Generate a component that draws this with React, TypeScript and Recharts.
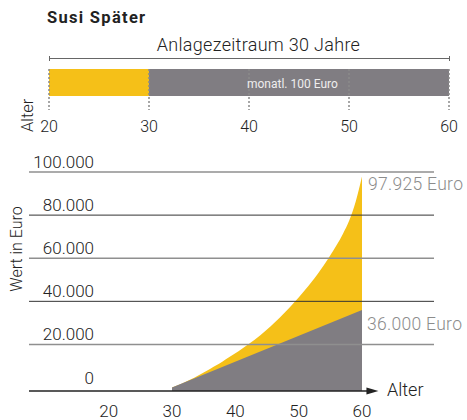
import { Area, Bar, BarChart, ComposedChart, ReferenceDot, ReferenceLine, XAxis, YAxis } from "recharts"

const YELLOW = "#F5C018"
const GRAY = "#807D82"
const FONT = "Roboto, sans-serif"

// Zeitstrahl oben
const TIMELINE_TICKS = [20, 30, 40, 50, 60]
const WAIT_PHASE: [number, number] = [20, 30]
const SAVE_PHASE: [number, number] = [30, 60]

// Wertentwicklung unten (Alter -> Wert in Euro)
const AGES = [30, 31, 32, 33, 34, 35, 36, 37, 38, 39, 40, 41, 42, 43, 44, 45, 46, 47, 48, 49, 50, 51, 52, 53, 54, 55, 56, 57, 58, 59, 60]
const TOTAL = [
  0, 1200, 2500, 3900, 5400, 7000, 8600, 10300, 12100, 14000, 15900,
  17900, 20000, 22100, 24400, 26900, 29600, 32400, 35400, 38500, 41800,
  45200, 48900, 52700, 56900, 61400, 66100, 71400, 77600, 86200, 97925,
]
const PAID_AGES = [30, 60]
const PAID = [0, 36000]
const Y_TICKS = [0, 20000, 40000, 60000, 80000, 100000]
const X_TICKS = [20, 30, 40, 50, 60]

// axis extents (grid lines run past the data range)
const X_MIN = 7.42
const X_MAX = 71.37
const Y_MIN = -1600

const timelineData = [{ name: "Alter", warten: WAIT_PHASE, sparen: SAVE_PHASE }]

const chartData = AGES.map((a, i) => {
  const p = PAID_AGES.indexOf(a)
  return { alter: a, gesamt: TOTAL[i], einzahlung: p >= 0 ? PAID[p] : null }
})

const fmt = (v: number) => v.toLocaleString("de-DE")

export default function App() {
  return (
    <div style={{ position: "absolute", left: 0, top: 0, width: 467, height: 420, background: "#fff", fontFamily: FONT }}>
      <div style={{ position: "absolute", left: 0, top: 0 }}>
        <BarChart
          width={467}
          height={140}
          layout="vertical"
          data={timelineData}
          margin={{ top: 69, right: 18, bottom: 43, left: 49 }}
          barCategoryGap={0}
        >
          <YAxis yAxisId="a" type="category" dataKey="name" hide />
          <YAxis yAxisId="b" type="category" dataKey="name" hide />
          <Bar yAxisId="a" dataKey="warten" fill={YELLOW} isAnimationActive={false} />
          <Bar yAxisId="b" dataKey="sparen" fill={GRAY} isAnimationActive={false} />
          <XAxis
            type="number"
            domain={[20, 60]}
            ticks={TIMELINE_TICKS}
            height={1}
            axisLine={false}
            tickLine={false}
            tickSize={0}
            tickMargin={0}
            interval={0}
            tick={(props: any) => (
              <g>
                <line x1={props.x} x2={props.x} y1={props.y - 27} y2={props.y + 14} stroke="#8a8a8a" strokeWidth={1.5} strokeDasharray="2 2" />
                <text x={props.x} y={props.y + 36} textAnchor="middle" fontSize={16} fontWeight={300} fill="#222" fontFamily={FONT}>
                  {props.payload.value}
                </text>
              </g>
            )}
          />
        </BarChart>
      </div>

      <div style={{ position: "absolute", left: 0, top: 0 }}>
        <ComposedChart width={467} height={420} data={chartData} margin={{ top: 172, right: 33, bottom: 28, left: 28 }}>
          {Y_TICKS.slice(1).map((v, i) => (
            <ReferenceLine
              key={v}
              y={v}
              stroke={i % 2 === 0 ? "#8f8f8f" : "#333"}
              strokeWidth={i % 2 === 0 ? 1.5 : 1}
            />
          ))}
          <XAxis
            dataKey="alter"
            type="number"
            domain={[X_MIN, X_MAX]}
            ticks={X_TICKS}
            allowDataOverflow
            height={1}
            axisLine={false}
            tickLine={false}
            tickSize={0}
            tickMargin={0}
            interval={0}
            tick={(props: any) => (
              <text x={props.x} y={props.y + 26} textAnchor="middle" fontSize={17} fontWeight={300} fill="#222" fontFamily={FONT}>
                {props.payload.value}
              </text>
            )}
          />
          <YAxis
            type="number"
            domain={[Y_MIN, 100000]}
            ticks={Y_TICKS}
            allowDataOverflow
            width={1}
            axisLine={false}
            tickLine={false}
            tickSize={0}
            tickMargin={0}
            interval={0}
            tick={(props: any) => (
              <text x={94} y={props.y - 4} textAnchor="end" fontSize={17} fontWeight={300} fill="#222" fontFamily={FONT}>
                {fmt(props.payload.value)}
              </text>
            )}
          />
          <Area
            dataKey="gesamt"
            type="monotone"
            fill={YELLOW}
            fillOpacity={1}
            stroke="none"
            baseValue={Y_MIN}
            isAnimationActive={false}
          />
          <Area
            dataKey="einzahlung"
            type="linear"
            connectNulls
            fill={GRAY}
            fillOpacity={1}
            stroke="none"
            baseValue={Y_MIN}
            isAnimationActive={false}
          />
          <ReferenceLine
            segment={[{ x: X_MIN, y: Y_MIN }, { x: 62, y: Y_MIN }]}
            stroke="#222"
            strokeWidth={1.3}
          />
          <ReferenceDot
            x={62.6}
            y={Y_MIN}
            r={0}
            shape={(p: any) => (
              <polygon points={`${p.cx - 12},${p.cy - 3.5} ${p.cx},${p.cy} ${p.cx - 12},${p.cy + 3.5}`} fill="#222" />
            )}
          />
        </ComposedChart>
      </div>

      <div style={{ position: "absolute", left: 49, top: 56, width: 399, height: 5, borderLeft: "1px solid #666", borderRight: "1px solid #666" }}>
        <div style={{ position: "absolute", left: 0, right: 0, top: 2, borderTop: "1px solid #666" }} />
      </div>

      <svg width={467} height={420} style={{ position: "absolute", left: 0, top: 0, pointerEvents: "none" }} fontFamily={FONT}>
        <text x={47} y={22.5} fontSize={16.5} fontWeight={700} fill="#222" letterSpacing={1.3}>Susi Später</text>
        <text x={258.5} y={51} fontSize={18} fontWeight={300} fill="#222" textAnchor="middle" letterSpacing={0.3}>Anlagezeitraum 30 Jahre</text>
        <text x={247} y={88.3} fontSize={12} fill="#eee">monatl. 100 Euro</text>
        <text x={33} y={132} fontSize={16.5} fontWeight={300} fill="#222" transform="rotate(-90 33 132)">Alter</text>
        <text x={22} y={249} fontSize={16} fontWeight={300} fill="#222" textAnchor="middle" transform="rotate(-90 22 249)">Wert in Euro</text>
        <text x={368} y={190} fontSize={17.5} fontWeight={300} fill="#8c8c8c" letterSpacing={0.3}>97.925 Euro</text>
        <text x={367} y={330} fontSize={17.5} fontWeight={300} fill="#8c8c8c" letterSpacing={0.3}>36.000 Euro</text>
        <text x={387} y={396} fontSize={18} fontWeight={300} fill="#222">Alter</text>
      </svg>
    </div>
  )
}
